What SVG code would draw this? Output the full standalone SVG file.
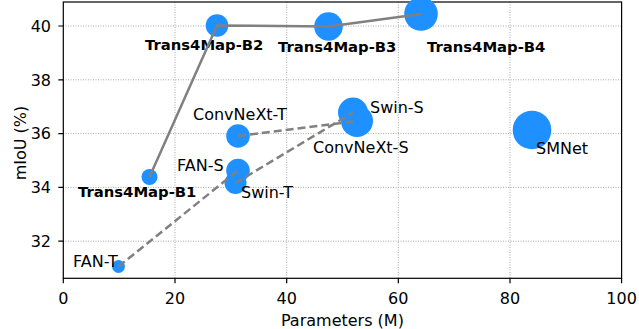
<svg xmlns="http://www.w3.org/2000/svg" width="639" height="329" viewBox="0 0 639 329">
<style>
text { font-family: "DejaVu Sans", "Liberation Sans", sans-serif; fill: #000; }
.ytick { font-size: 16px; text-anchor: end; }
.xtick { font-size: 16px; text-anchor: middle; }
.lbl { font-size: 16px; }
.bold { font-size: 14.8px; font-weight: bold; }
.grid { stroke: #a8a8a8; stroke-width: 1; stroke-dasharray: 1 1.5; fill: none; }
.pt { fill: #1e90ff; }
.solid { stroke: #808080; stroke-width: 2.5; fill: none; }
.dash { stroke: #808080; stroke-width: 2.5; fill: none; stroke-dasharray: 8 4; }
.spine { stroke: #000; stroke-width: 1.2; fill: none; }
</style>
<rect width="639" height="329" fill="#fff"/>
<g id="grid">
<line class="grid" x1="175" y1="2" x2="175" y2="278"/>
<line class="grid" x1="286.7" y1="2" x2="286.7" y2="278"/>
<line class="grid" x1="398.3" y1="2" x2="398.3" y2="278"/>
<line class="grid" x1="510" y1="2" x2="510" y2="278"/>
<line class="grid" x1="63" y1="26" x2="621.5" y2="26"/>
<line class="grid" x1="63" y1="79.8" x2="621.5" y2="79.8"/>
<line class="grid" x1="63" y1="133.6" x2="621.5" y2="133.6"/>
<line class="grid" x1="63" y1="187.4" x2="621.5" y2="187.4"/>
<line class="grid" x1="63" y1="241.2" x2="621.5" y2="241.2"/>
</g>
<g id="axes">
<rect class="spine" x="63.3" y="2" width="558.3" height="276.3"/>
<path class="spine" d="M63.3 278.3v5 M175 278.3v5 M286.7 278.3v5 M398.3 278.3v5 M510 278.3v5 M621.6 278.3v5 M63.3 26h-5 M63.3 79.8h-5 M63.3 133.6h-5 M63.3 187.4h-5 M63.3 241.2h-5"/>
<text class="xtick" x="63.3" y="304">0</text>
<text class="xtick" x="175" y="304">20</text>
<text class="xtick" x="286.7" y="304">40</text>
<text class="xtick" x="398.3" y="304">60</text>
<text class="xtick" x="510" y="304">80</text>
<text class="xtick" x="621.6" y="304">100</text>
<text class="ytick" x="51" y="31.8">40</text>
<text class="ytick" x="51" y="85.6">38</text>
<text class="ytick" x="51" y="139.4">36</text>
<text class="ytick" x="51" y="193.2">34</text>
<text class="ytick" x="51" y="247">32</text>
<text class="lbl" x="342.4" y="326" text-anchor="middle">Parameters (M)</text>
<text class="lbl" transform="translate(25.5 143) rotate(-90)" text-anchor="middle">mIoU (%)</text>
</g>
<g id="Trans4Map-B1"><circle class="pt" cx="149.5" cy="177" r="8"/><text class="bold" x="78" y="197">Trans4Map-B1</text></g>
<g id="Trans4Map-B2"><circle class="pt" cx="217" cy="25.5" r="11.3"/><text class="bold" x="145" y="50">Trans4Map-B2</text></g>
<g id="Trans4Map-B3"><circle class="pt" cx="328.5" cy="26.5" r="14.3"/><text class="bold" x="278" y="51.5">Trans4Map-B3</text></g>
<g id="Trans4Map-B4"><circle class="pt" cx="421" cy="14" r="16.8"/><text class="bold" x="427" y="51.5">Trans4Map-B4</text></g>
<g id="ConvNeXt-T"><circle class="pt" cx="238" cy="136" r="11.8"/><text class="lbl" x="193" y="120">ConvNeXt-T</text></g>
<g id="FAN-S"><circle class="pt" cx="238" cy="170.5" r="11.8"/><text class="lbl" x="177" y="171">FAN-S</text></g>
<g id="Swin-T"><circle class="pt" cx="235.5" cy="183" r="11"/><text class="lbl" x="241" y="198">Swin-T</text></g>
<g id="Swin-S"><circle class="pt" cx="353" cy="112.5" r="15"/><text class="lbl" x="370" y="113">Swin-S</text></g>
<g id="ConvNeXt-S"><circle class="pt" cx="357" cy="121" r="16"/><text class="lbl" x="313" y="153">ConvNeXt-S</text></g>
<g id="SMNet"><circle class="pt" cx="532" cy="130" r="19.3"/><text class="lbl" x="536" y="154">SMNet</text></g>
<g id="FAN-T"><circle class="pt" cx="118.5" cy="266.5" r="6.5"/><text class="lbl" x="73" y="267">FAN-T</text></g>
<g id="connectors">
<polyline class="solid" points="149.5,177 217,25.5 328.5,26.5 421,14"/>
<line class="dash" x1="118.5" y1="266.5" x2="238" y2="170.5"/>
<line class="dash" x1="235.5" y1="183" x2="353" y2="112.5"/>
<line class="dash" x1="238" y1="136" x2="357" y2="121"/>
</g>
</svg>
